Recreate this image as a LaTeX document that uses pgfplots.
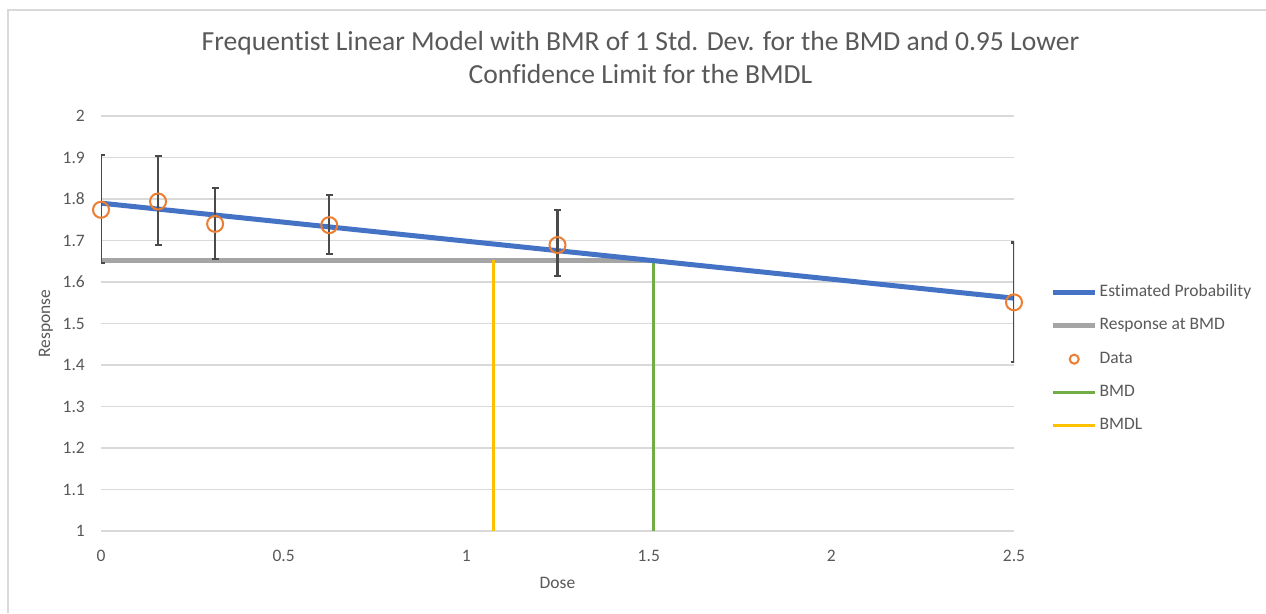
\documentclass[border=0pt]{standalone}
\usepackage{fontspec}
\setmainfont{Carlito}[Ligatures=NoCommon]
\usepackage{pgfplots}
\pgfplotsset{compat=1.18}
\definecolor{cblue}{HTML}{4472C4}
\definecolor{cgray}{HTML}{A5A5A5}
\definecolor{corange}{HTML}{ED7D31}
\definecolor{cgreen}{HTML}{70AD47}
\definecolor{cyellow}{HTML}{FFC000}
\definecolor{txt}{HTML}{595959}
\definecolor{gridc}{HTML}{D9D9D9}
\definecolor{errc}{HTML}{4A4A4A}
\pgfplotstableread{
x y ep em
0 1.774 0.132 0.129
0.15625 1.794 0.109 0.105
0.3125 1.740 0.086 0.084
0.625 1.737 0.073 0.069
1.25 1.689 0.084 0.074
2.5 1.551 0.144 0.143
}\datatable
\begin{document}
\begin{tikzpicture}[x=1pt,y=1pt]
\path[use as bounding box] (0,0) rectangle (1266,613);
\fill[white] (0,0) rectangle (1266,613);
\draw[color=gridc, line width=2pt] (8,0) -- (8,603) -- (1266,603);
\node[anchor=base, font=\fontsize{27.6}{33}\selectfont, text=txt, inner sep=0pt] at (640.5,562) {Frequentist Linear Model with BMR of 1 Std. Dev. for the BMD and 0.95 Lower};
\node[anchor=base, font=\fontsize{27.6}{33}\selectfont, text=txt, inner sep=0pt] at (640.5,529) {Confidence Limit for the BMDL};
\begin{axis}[
  at={(101pt,82pt)}, anchor=south west,
  scale only axis, width=913pt, height=415pt,
  xmin=0, xmax=2.5, ymin=1, ymax=2,
  xtick={0,0.5,1,1.5,2,2.5},
  ytick={1,1.1,1.2,1.3,1.4,1.5,1.6,1.7,1.8,1.9,2},
  axis line style={draw=none},
  major tick length=0pt,
  tick pos=left,
  ymajorgrids, grid style={gridc, line width=1.5pt},
  /pgf/number format/assume math mode=true,
  tick label style={font=\fontsize{17.5}{21}\selectfont, text=txt},
  yticklabel style={anchor=east, inner sep=0pt, xshift=-16pt},
  xticklabel style={anchor=north, inner sep=0pt, yshift=-19pt},
  xlabel={Dose}, ylabel={Response},
  label style={font=\fontsize{17.5}{21}\selectfont, text=txt},
  xlabel style={at={(axis description cs:0.5,0)}, anchor=base, yshift=-57pt, inner sep=0pt},
  ylabel style={at={(axis description cs:-0.0602,0.5)}, anchor=center, inner sep=0pt},
  legend style={at={(axis description cs:1.040,0.414)}, anchor=west, draw=none, fill=none,
    font=\fontsize{17.5}{21}\selectfont, text=txt, row sep=17.3pt, column sep=2pt,
    inner sep=0pt, nodes={inner sep=0pt, text height=12pt, text depth=4pt}},
  legend cell align=left,
]
\addlegendimage{legend image code/.code={\draw[cblue, line width=5pt] (0pt,0pt) -- (42pt,0pt);}}
\addlegendentry{Estimated Probability}
\addlegendimage{legend image code/.code={\draw[cgray, line width=5pt] (0pt,0pt) -- (42pt,0pt);}}
\addlegendentry{Response at BMD}
\addlegendimage{legend image code/.code={\draw[corange, line width=2pt] (21pt,0pt) circle (4.5pt);}}
\addlegendentry{Data}
\addlegendimage{legend image code/.code={\draw[cgreen, line width=3pt] (0pt,0pt) -- (42pt,0pt);}}
\addlegendentry{BMD}
\addlegendimage{legend image code/.code={\draw[cyellow, line width=3pt] (0pt,0pt) -- (42pt,0pt);}}
\addlegendentry{BMDL}

\addplot[forget plot, cgray, line width=5pt] coordinates {(0,1.653) (1.514,1.653)};
\addplot[forget plot, cgreen, line width=3pt] coordinates {(1.514,1) (1.514,1.653)};
\addplot[forget plot, cyellow, line width=3pt] coordinates {(1.076,1) (1.076,1.653)};
\addplot[forget plot, cblue, line width=5pt] coordinates {(0,1.790) (2.5,1.561)};
\addplot[forget plot, only marks, mark=o, mark size=8pt,
  mark options={draw=corange, fill=none, line width=2pt},
  error bars/.cd, y dir=both, y explicit,
  error bar style={errc, line width=2.2pt},
  error mark options={errc, line width=2.2pt, mark size=3.5pt, rotate=90}]
  table[x=x, y=y, y error plus=ep, y error minus=em] {\datatable};
\end{axis}
\end{tikzpicture}
\end{document}
